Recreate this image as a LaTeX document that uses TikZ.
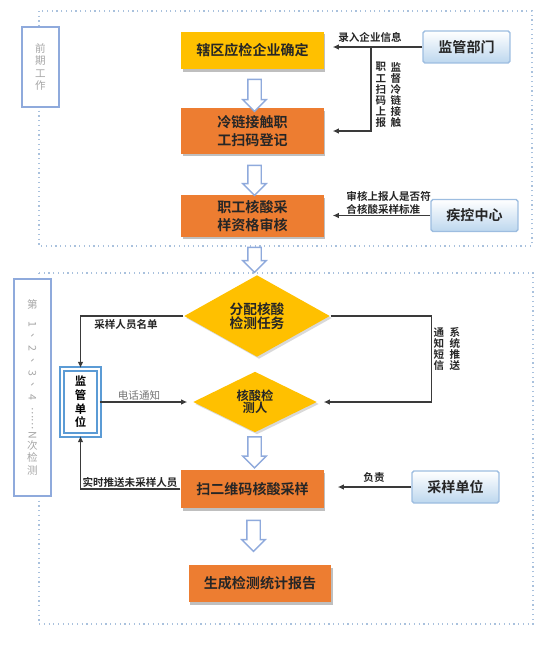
\documentclass[tikz,border=0pt]{standalone}
\usepackage{fontspec}
\setmainfont{Noto Sans CJK SC}[BoldFont=Noto Sans CJK SC Bold]
\usetikzlibrary{arrows.meta, shapes.geometric, shapes.arrows, shadows}
\definecolor{cyellow}{HTML}{FFC000}
\definecolor{corange}{HTML}{ED7D31}
\definecolor{cframe}{HTML}{A9C1DD}
\definecolor{chollow}{HTML}{8FAADC}
\definecolor{cdept}{HTML}{BDD7EE}
\definecolor{cdeptedge}{HTML}{9DBDE0}
\definecolor{csup}{HTML}{5B9BD5}
\definecolor{cgrey}{HTML}{A6A6A6}
\definecolor{cline}{HTML}{3A3A3A}
\tikzset{
  every picture/.style={line width=0.8pt},
  stage/.style={draw=cframe, dotted, line width=0.7pt},
  tag/.style={draw=chollow, fill=white, line width=0.8pt, text=cgrey, align=center, inner sep=0pt, minimum width=0.74cm, font=\fontsize{6}{7}\selectfont},
  stepbox/.style={fill=#1, minimum width=2.86cm, align=center, inner sep=2pt, text=black!85, font=\fontsize{8}{10.5}\selectfont\bfseries, drop shadow={shadow xshift=0.03cm, shadow yshift=-0.05cm, fill=black!25, opacity=1}},
  stepbox/.default=corange,
  dept/.style={draw=cdeptedge, top color=white, bottom color=cdept, minimum width=1.74cm, minimum height=0.64cm, rounded corners=1pt, text=black!85, font=\fontsize{8}{10}\selectfont\bfseries},
  decision/.style={diamond, fill=cyellow, inner sep=0pt, align=center, text=black!85, font=\fontsize{#1}{#1pt+1.5pt}\selectfont\bfseries, drop shadow={shadow xshift=0.04cm, shadow yshift=-0.04cm, fill=black!15, opacity=1}},
  hollow/.style={single arrow, draw=chollow, fill=white, line width=0.8pt, shape border rotate=270, single arrow head extend=0.1cm, inner sep=0.12cm},
  link/.style={-{Latex[length=3.5pt, width=3.2pt]}, draw=cline, line width=0.9pt},
  note/.style={inner sep=1pt, text=black!85, font=\fontsize{6}{7.4}\selectfont\bfseries},
  vnote/.style={note, align=center, font=\fontsize{6}{6.35}\selectfont\bfseries},
  plain/.style={note, text=black!55, font=\fontsize{6}{7.4}\selectfont},
}
\newcommand{\rot}[1]{\rotatebox{-90}{#1}}

\begin{document}
\begin{tikzpicture}[x=0.02cm, y=-0.02cm]
  \useasboundingbox (0,0) rectangle (550,646);
  % the two stages
  \draw[stage] (39,11) rectangle (532,246);
  \draw[stage] (39,273) rectangle (533,624);
  \node[tag, minimum height=1.6cm] (pre) at (40.5,67) {前\\期\\工\\作};
  \node[tag, minimum height=4.34cm] (round) at (32.5,387.5) {第\\\rot{1}\\\rot{、}\\\rot{2}\\\rot{、}\\\rot{3}\\\rot{、}\\\rot{4}\\\rot{……}\\\rot{N}\\次\\检\\测};
  % main column
  \node[stepbox=cyellow, minimum height=0.76cm] (ent) at (252.5,50.5) {辖区应检企业确定};
  \node[stepbox, minimum height=0.92cm] (cold) at (252.5,131) {冷链接触职\\工扫码登记};
  \node[stepbox, minimum height=0.84cm] (qual) at (252.5,216) {职工核酸采\\样资格审核};
  \node[decision=7.8, minimum width=2.92cm, minimum height=1.64cm] (task) at (257,316) {分配核酸\\检测任务};
  \node[decision=7, minimum width=2.48cm, minimum height=1.22cm] (tester) at (255,402) {核酸检\\测人};
  \node[stepbox, minimum height=0.76cm] (scan) at (252.5,489) {扫二维码核酸采样};
  \node[stepbox, minimum height=0.74cm] (report) at (260,583.5) {生成检测统计报告};
  \node[hollow, minimum height=0.64cm] (a1) at (254.5,92) {};
  \node[hollow, minimum height=0.60cm] (a2) at (254.5,177) {};
  \node[hollow, minimum height=0.50cm] (a3) at (254.5,256.5) {};
  \node[hollow, minimum height=0.62cm] (a4) at (254.5,449) {};
  \node[hollow, minimum height=0.62cm] (a5) at (253.5,532.5) {};
  % side units
  \node[dept] (reg) at (466.5,47) {监管部门};
  \node[dept] (cdc) at (474.5,215.5) {疾控中心};
  \node[dept] (samp) at (455.5,487) {采样单位};
  \node[draw=csup, double=white, double distance=0.9pt, line width=1.1pt, fill=white, minimum width=0.74cm, minimum height=1.32cm, align=center, inner sep=0pt, font=\fontsize{6.5}{7.8}\selectfont\bfseries] (sup) at (80.5,402) {监\\管\\单\\位};
  % connectors
  \coordinate (fork) at (371,47);
  \draw[link, shorten >=0.16cm] (reg.west) -- (reg.west -| ent.east);
  \draw[link, shorten >=0.16cm] (fork) |- (cold.east);
  \draw[link, shorten >=0.16cm] (cdc.west) -- (cdc.west -| qual.east);
  \draw[link] (task.west) -| (sup.north);
  \draw[link, shorten >=0.12cm] (task.east) -- ++(101,0) |- (tester.east);
  \draw[link, shorten >=0.1cm] (sup.east) -- (tester.west);
  \draw[link] (scan.west) -| (sup.south);
  \draw[link, shorten >=0.26cm] (samp.west) -- (samp.west -| scan.east);
  % labels
  \node[note] (l1) at (370,37) {录入企业信息};
  \node[vnote] (l2) at (396,95) {监\\督\\冷\\链\\接\\触};
  \node[vnote] (l3) at (381,95) {职\\工\\扫\\码\\上\\报};
  \node[note, align=left, anchor=south west] (l4) at (344,217) {审核上报人是否符\\合核酸采样标准};
  \node[note] (l5) at (126,325) {采样人员名单};
  \node[vnote] (l6) at (455,349) {系\\统\\推\\送};
  \node[vnote] (l7) at (439,349) {通\\知\\短\\信};
  \node[plain] (l8) at (139,395) {电话通知};
  \node[note] (l9) at (130,482) {实时推送未采样人员};
  \node[note] (l10) at (374,478) {负责};
\end{tikzpicture}
\end{document}
